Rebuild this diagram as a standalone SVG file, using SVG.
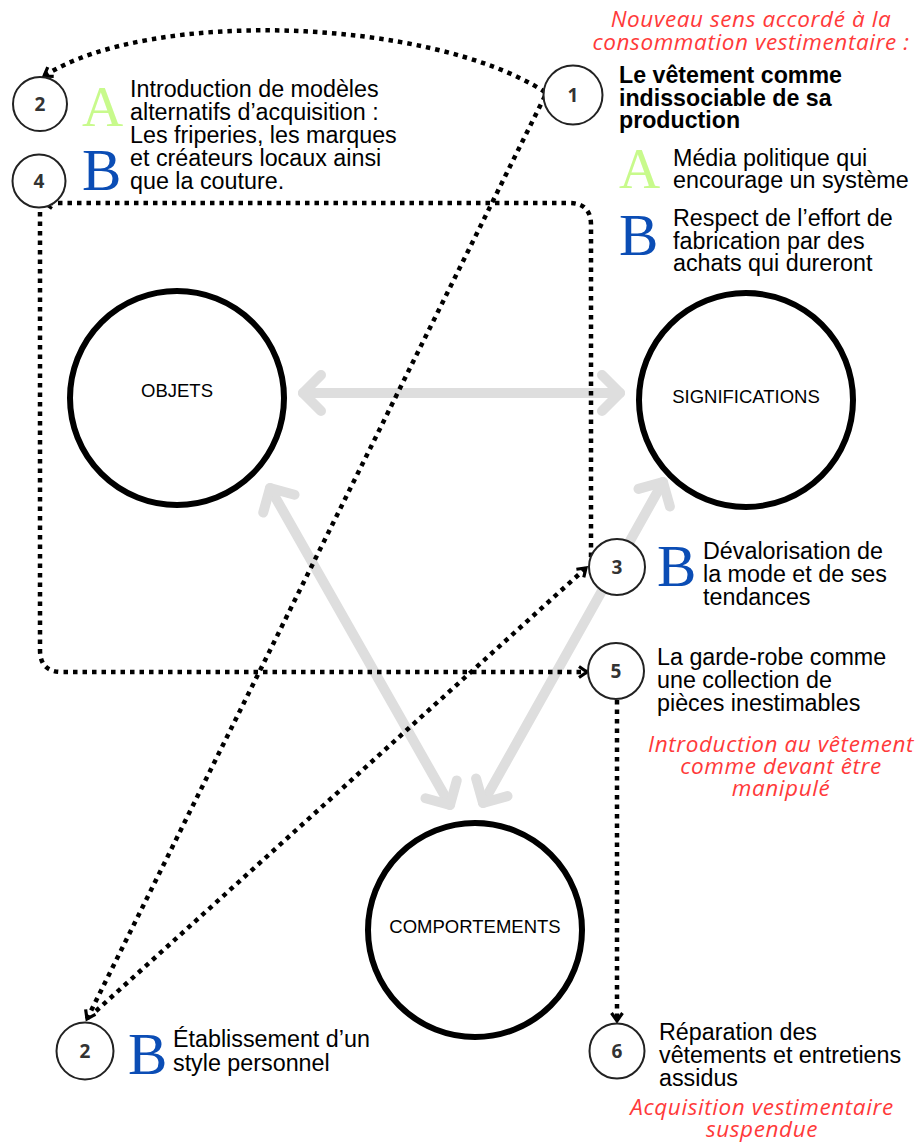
<svg xmlns="http://www.w3.org/2000/svg" width="919" height="1142" viewBox="0 0 919 1142">
<defs>
<marker id="ah" viewBox="0 0 14 14" refX="11" refY="7" markerWidth="14" markerHeight="14" orient="auto" markerUnits="userSpaceOnUse">
<path d="M3,1.5 L11,7 L3,12.5" fill="none" stroke="#000" stroke-width="3.2" stroke-linejoin="miter"/>
</marker>
<marker id="gh" viewBox="-26 -26 34 52" refX="0" refY="0" markerWidth="34" markerHeight="52" orient="auto-start-reverse" markerUnits="userSpaceOnUse" overflow="visible">
<path d="M-18,-18 L0,0 L-18,18" fill="none" stroke="#dedede" stroke-width="10" stroke-linecap="round" stroke-linejoin="round"/>
</marker>
</defs>
<style>
.big{fill:#fff;stroke:#000;stroke-width:6}
.sm{fill:#fff;stroke:#222;stroke-width:2}
.num{font-family:"Open Sans","Liberation Sans",sans-serif;font-weight:700;font-size:19px;fill:#333;text-anchor:middle}
.lbl{font-family:"Liberation Sans",Arial,sans-serif;font-size:18.5px;fill:#000;text-anchor:middle}
.t{font-family:"Liberation Sans",Arial,sans-serif;font-size:23.3px;fill:#000}
.tb{font-family:"Liberation Sans",Arial,sans-serif;font-size:23.2px;font-weight:700;fill:#000}
.red{font-family:"Open Sans","Noto Sans",sans-serif;font-style:italic;font-size:22.5px;letter-spacing:0.6px;fill:#ff3a3a;text-anchor:middle}
.A{font-family:"Liberation Serif","Times New Roman",serif;font-size:57px;fill:#c8fa8c}
.B{font-family:"Liberation Serif","Times New Roman",serif;font-size:59px;fill:#0b4db5}
.gray{fill:none;stroke:#dedede;stroke-width:10;stroke-linecap:round;marker-start:url(#gh);marker-end:url(#gh)}
.dot{fill:none;stroke:#000;stroke-width:4.5;stroke-dasharray:4.5 5}
</style>
<rect width="919" height="1142" fill="#fff"/>

<g id="gray-connectors">
<line class="gray" x1="303" y1="393" x2="620" y2="393"/>
<line class="gray" x1="270" y1="488" x2="450" y2="805"/>
<line class="gray" x1="663" y1="482" x2="483" y2="803"/>
</g>

<g id="node-objets"><circle class="big" cx="177" cy="398" r="107"/><text class="lbl" x="177" y="397">OBJETS</text></g>
<g id="node-significations"><circle class="big" cx="746" cy="400" r="107"/><text class="lbl" x="746" y="403">SIGNIFICATIONS</text></g>
<g id="node-comportements"><circle class="big" cx="475" cy="930" r="107"/><text class="lbl" x="475" y="933">COMPORTEMENTS</text></g>

<g id="connectors">
<path class="dot" d="M545,92 C430,18 150,8 44,76" marker-end="url(#ah)"/>
<path class="dot" d="M545,96 L87,1019" marker-end="url(#ah)"/>
<path class="dot" d="M96,1011 L586,568" marker-end="url(#ah)"/>
<path class="dot" d="M591,557 V225 Q591,203 569,203 H44" marker-end="url(#ah)"/>
<path class="dot" d="M40,212 V650 Q40,672 62,672 H587" marker-end="url(#ah)"/>
<path class="dot" d="M617,700 V1021" marker-end="url(#ah)"/>
</g>

<g id="heading">
<text class="red" x="751" y="27">Nouveau sens accordé à la</text>
<text class="red" x="751" y="50">consommation vestimentaire :</text>
</g>

<g id="node-1">
<circle class="sm" cx="573" cy="95" r="29.5"/><text class="num" x="573" y="102">1</text>
<text class="tb" x="619" y="83">Le vêtement comme</text>
<text class="tb" x="619" y="106">indissociable de sa</text>
<text class="tb" x="619" y="128">production</text>
<text class="A" x="619" y="188">A</text>
<text class="t" x="673" y="166">Média politique qui</text>
<text class="t" x="673" y="188">encourage un système</text>
<text class="B" x="619" y="255">B</text>
<text class="t" x="673" y="226">Respect de l’effort de</text>
<text class="t" x="673" y="248.5">fabrication par des</text>
<text class="t" x="673" y="271">achats qui dureront</text>
</g>

<g id="node-2-top">
<circle class="sm" cx="40" cy="104" r="27"/><text class="num" x="40" y="111">2</text>
<text class="A" x="82" y="126">A</text>
</g>
<g id="node-4">
<circle class="sm" cx="39" cy="181" r="26.5"/><text class="num" x="39" y="188">4</text>
<text class="B" x="82" y="190">B</text>
</g>
<g id="text-2-4">
<text class="t" x="130" y="97">Introduction de modèles</text>
<text class="t" x="130" y="120">alternatifs d’acquisition :</text>
<text class="t" x="130" y="143">Les friperies, les marques</text>
<text class="t" x="130" y="166">et créateurs locaux ainsi</text>
<text class="t" x="130" y="189">que la couture.</text>
</g>

<g id="node-3">
<circle class="sm" cx="617" cy="567" r="28"/><text class="num" x="617" y="574">3</text>
<text class="B" x="657" y="586">B</text>
<text class="t" x="703" y="559">Dévalorisation de</text>
<text class="t" x="703" y="582">la mode et de ses</text>
<text class="t" x="703" y="605">tendances</text>
</g>

<g id="node-5">
<circle class="sm" cx="616" cy="671" r="28"/><text class="num" x="616" y="678">5</text>
<text class="t" x="657" y="665">La garde-robe comme</text>
<text class="t" x="657" y="688">une collection de</text>
<text class="t" x="657" y="711">pièces inestimables</text>
<text class="red" x="781" y="752">Introduction au vêtement</text>
<text class="red" x="781" y="774">comme devant être</text>
<text class="red" x="781" y="796">manipulé</text>
</g>

<g id="node-6">
<circle class="sm" cx="617" cy="1051" r="27.5"/><text class="num" x="617" y="1058">6</text>
<text class="t" x="659" y="1040">Réparation des</text>
<text class="t" x="659" y="1063">vêtements et entretiens</text>
<text class="t" x="659" y="1086">assidus</text>
<text class="red" x="762" y="1115">Acquisition vestimentaire</text>
<text class="red" x="762" y="1137">suspendue</text>
</g>

<g id="node-2-bottom">
<circle class="sm" cx="85" cy="1051" r="28.5"/><text class="num" x="85" y="1058">2</text>
<text class="B" x="128" y="1074">B</text>
<text class="t" x="173" y="1047">Établissement d’un</text>
<text class="t" x="173" y="1071">style personnel</text>
</g>
</svg>
